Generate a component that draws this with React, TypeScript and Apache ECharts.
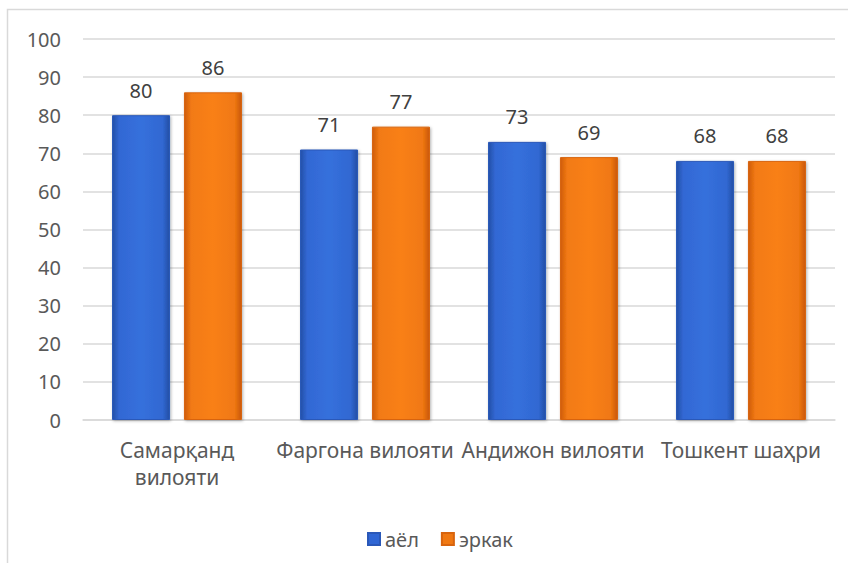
import React, { useEffect, useRef } from "react";
import * as echarts from "echarts";

const categories = ["Самарқанд вилояти", "Фаргона вилояти", "Андижон вилояти", "Тошкент шаҳри"];
const seriesNames = ["аёл", "эркак"];
const womenValues = [80, 71, 73, 68];
const menValues = [86, 77, 69, 68];
const yTicks = { min: 0, max: 100, interval: 10 };

const FONT = "Noto Sans";

function blueFill() {
  return new echarts.graphic.LinearGradient(0, 0, 1, 0, [
    { offset: 0, color: "#2450a8" },
    { offset: 0.12, color: "#3268d4" },
    { offset: 0.5, color: "#3670dc" },
    { offset: 0.88, color: "#3068d2" },
    { offset: 1, color: "#234ea4" },
  ]);
}
function orangeFill() {
  return new echarts.graphic.LinearGradient(0, 0, 1, 0, [
    { offset: 0, color: "#cf5c0a" },
    { offset: 0.12, color: "#f27a14" },
    { offset: 0.5, color: "#f98018" },
    { offset: 0.88, color: "#f07812" },
    { offset: 1, color: "#c95808" },
  ]);
}

export default function App() {
  const ref = useRef<HTMLDivElement>(null);
  useEffect(() => {
    document.body.style.margin = "0";
    const chart = echarts.init(ref.current!, null, { renderer: "svg" });
    const labelStyle = {
      show: true,
      position: "top" as const,
      distance: 15,
      color: "#404040",
      fontSize: 20,
      fontFamily: FONT,
    };
    chart.setOption({
      animation: false,
      backgroundColor: "#ffffff",
      textStyle: { fontFamily: FONT },
      graphic: [
        {
          type: "rect",
          shape: { x: 7.5, y: 9.5, width: 900, height: 600 },
          style: { fill: "none", stroke: "#d9d9d9", lineWidth: 1.5 },
          silent: true,
          z: -10,
        },
      ],
      grid: { left: 83, right: 13, top: 39, bottom: 143 },
      legend: {
        left: 362,
        top: 524,
        itemWidth: 12,
        itemHeight: 12,
        itemGap: 22,
        textStyle: { color: "#595959", fontSize: 20, fontFamily: FONT },
        data: [
          { name: seriesNames[0], icon: "rect", itemStyle: { color: "#2f66d4" } },
          { name: seriesNames[1], icon: "rect", itemStyle: { color: "#f07812" } },
        ],
      },
      xAxis: {
        type: "category",
        data: categories,
        axisLine: { lineStyle: { color: "#d9d9d9", width: 1.5 } },
        axisTick: { show: false },
        axisLabel: {
          color: "#595959",
          fontSize: 21,
          fontFamily: FONT,
          margin: 16,
          lineHeight: 27,
          interval: 0,
          formatter: (v: string) => (v.length > 16 ? v.replace(" ", "\n") : v),
        },
      },
      yAxis: {
        type: "value",
        min: yTicks.min,
        max: yTicks.max,
        interval: yTicks.interval,
        axisLine: { show: false },
        axisTick: { show: false },
        axisLabel: { color: "#595959", fontSize: 20, fontFamily: FONT, margin: 22 },
        splitLine: { lineStyle: { color: "#d9d9d9", width: 1.5 } },
      },
      series: [
        {
          name: seriesNames[0],
          type: "bar",
          data: womenValues,
          barWidth: 58,
          barGap: "24%",
          itemStyle: {
            color: blueFill(),
            borderColor: "#2a58b8",
            borderWidth: 1,
            shadowColor: "rgba(0,0,0,0.3)",
            shadowBlur: 3,
            shadowOffsetX: 1,
            shadowOffsetY: 1,
          },
          label: labelStyle,
        },
        {
          name: seriesNames[1],
          type: "bar",
          data: menValues,
          barWidth: 58,
          barGap: "24%",
          itemStyle: {
            color: orangeFill(),
            borderColor: "#d8640e",
            borderWidth: 1,
            shadowColor: "rgba(0,0,0,0.3)",
            shadowBlur: 3,
            shadowOffsetX: 1,
            shadowOffsetY: 1,
          },
          label: labelStyle,
        },
      ],
    });
    return () => chart.dispose();
  }, []);
  return (
    <div
      ref={ref}
      style={{ position: "absolute", left: 0, top: 0, width: 848, height: 563 }}
    />
  );
}
